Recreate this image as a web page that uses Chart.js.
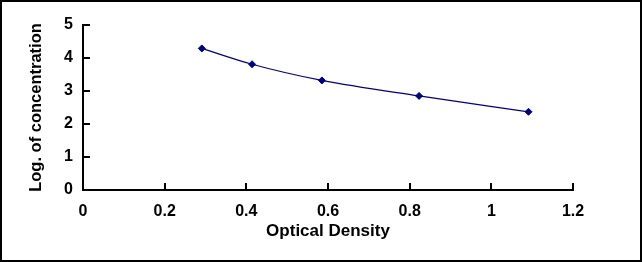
<!DOCTYPE html>
<html>
<head>
<meta charset="utf-8">
<script src="https://cdn.jsdelivr.net/npm/chart.js@4/dist/chart.umd.min.js"></script>
<style>
  html, body { margin: 0; padding: 0; background: #fff; }
  #wrap { width: 642px; height: 262px; }
</style>
</head>
<body>
<div id="wrap"><canvas id="chart1" width="642" height="262"></canvas></div>
<script>
// standard curve points
const opticalDensity = [0.291, 0.414, 0.585, 0.823, 1.091]
const logConc = [4.29, 3.81, 3.32, 2.85, 2.37]
const xTicks = [0, 0.2, 0.4, 0.6, 0.8, 1, 1.2]
const yTicks = [0, 1, 2, 3, 4, 5]

const points = opticalDensity.map((x, i) => ({ x: x, y: logConc[i] }))

//=============== little marks inside the axes + outer frame ===============
const frame = {
  id: 'frame',
  beforeDraw: (chart) => {
    const ctx = chart.ctx
    ctx.save()
    ctx.fillStyle = '#fff'
    ctx.fillRect(0, 0, chart.width, chart.height)
    ctx.restore()
  },
  afterDraw: (chart) => {
    const ctx = chart.ctx
    const xs = chart.scales.x
    const ys = chart.scales.y
    const area = chart.chartArea
    ctx.save()
    ctx.strokeStyle = '#000'
    ctx.lineWidth = 2
    xTicks.slice(1).forEach(v => {
      const px = Math.round(xs.getPixelForValue(v))
      ctx.beginPath()
      ctx.moveTo(px, area.bottom)
      ctx.lineTo(px, area.bottom - 7)
      ctx.stroke()
    })
    yTicks.slice(1).forEach(v => {
      const py = Math.round(ys.getPixelForValue(v))
      ctx.beginPath()
      ctx.moveTo(area.left, py)
      ctx.lineTo(area.left + 7, py)
      ctx.stroke()
    })
    ctx.strokeRect(1, 1, chart.width - 2, chart.height - 2)
    ctx.restore()
  }
}

const fam = 'Liberation Sans, Arial, sans-serif'

const ctx = document.querySelector('#chart1').getContext('2d')
new Chart(ctx, {
  type: 'scatter',
  data: {
    datasets: [{
      data: points,
      showLine: true,
      borderColor: '#000080',
      borderWidth: 1.2,
      backgroundColor: '#000080',
      pointStyle: 'rectRot',
      pointRadius: 3.5,
      pointBorderWidth: 1,
      cubicInterpolationMode: 'monotone'
    }]
  },
  options: {
    responsive: false,
    animation: false,
    layout: { padding: { left: 0, top: 25, right: 69, bottom: 0 } },
    plugins: { legend: { display: false }, tooltip: { enabled: false } },
    scales: {
      x: {
        type: 'linear',
        min: 0,
        max: 1.2,
        afterBuildTicks: (s) => { s.ticks = xTicks.map(v => ({ value: v })) },
        afterFit: (s) => { s.height = 72 },
        grid: { display: false, drawTicks: false },
        border: { display: true, color: '#000', width: 2 },
        ticks: {
          color: '#000',
          font: { family: fam, size: 16, weight: 'bold' },
          padding: 12,
          maxRotation: 0,
          callback: (v) => String(v)
        },
        title: {
          display: true,
          text: 'Optical Density',
          color: '#000',
          font: { family: fam, size: 17, weight: 'bold' },
          padding: { top: 0, bottom: 20 }
        }
      },
      y: {
        type: 'linear',
        min: 0,
        max: 5,
        afterBuildTicks: (s) => { s.ticks = yTicks.map(v => ({ value: v })) },
        afterFit: (s) => { s.width = 83 },
        grid: { display: false, drawTicks: false },
        border: { display: true, color: '#000', width: 2 },
        ticks: {
          color: '#000',
          font: { family: fam, size: 16, weight: 'bold' },
          padding: 10,
          callback: (v) => String(v)
        },
        title: {
          display: true,
          text: 'Log. of concentration',
          color: '#000',
          font: { family: fam, size: 16.5, weight: 'bold' },
          padding: { top: 27, bottom: 0 }
        }
      }
    }
  },
  plugins: [frame]
})
</script>
</body>
</html>
